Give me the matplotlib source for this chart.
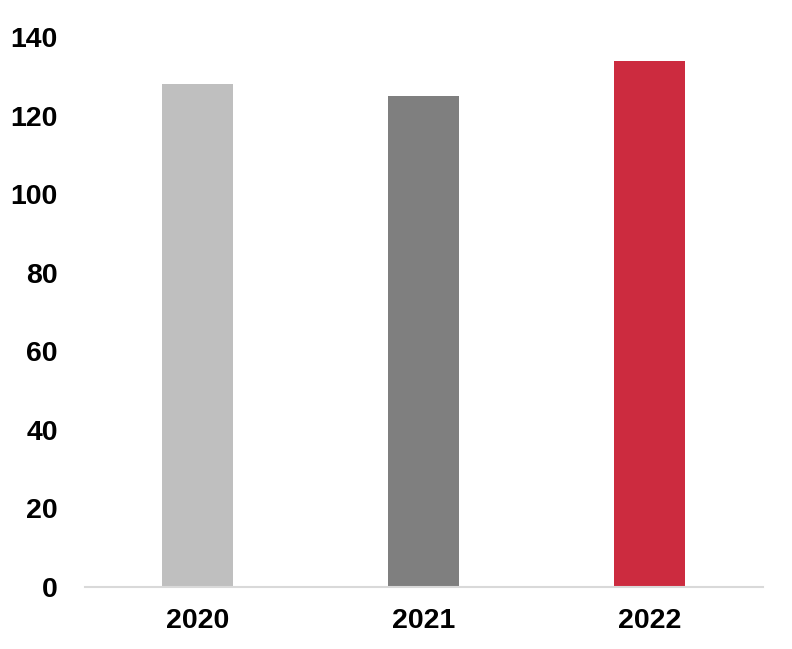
import matplotlib
matplotlib.use('Agg')
import matplotlib.pyplot as plt

years = ['2020', '2021', '2022']
values = [128, 125, 134]
colors = ['#bfbfbf', '#7f7f7f', '#cc2b3f']

plt.rcParams['font.family'] = ['Liberation Sans', 'DejaVu Sans']

fig = plt.figure(figsize=(7.92, 6.49), dpi=100)
ax = fig.add_axes([0.107, 0.0955, 0.856, 0.8475])

ax.bar(range(len(years)), values, width=0.315, color=colors, zorder=2)
ax.set_xlim(-0.5, len(years) - 0.5)
ax.set_ylim(0, 140)
ax.set_yticks(range(0, 141, 20))
ax.set_xticks(range(len(years)))
ax.set_xticklabels(years)

for side in ['top', 'right', 'left']:
    ax.spines[side].set_visible(False)
ax.spines['bottom'].set_color('#d9d9d9')
ax.spines['bottom'].set_linewidth(1.5)
ax.tick_params(axis='both', length=0, labelsize=20.5)
ax.tick_params(axis='y', pad=19.5)
ax.tick_params(axis='x', pad=15)
for lbl in ax.get_xticklabels() + ax.get_yticklabels():
    lbl.set_fontweight('bold')

fig.savefig('out.png', dpi=100)
